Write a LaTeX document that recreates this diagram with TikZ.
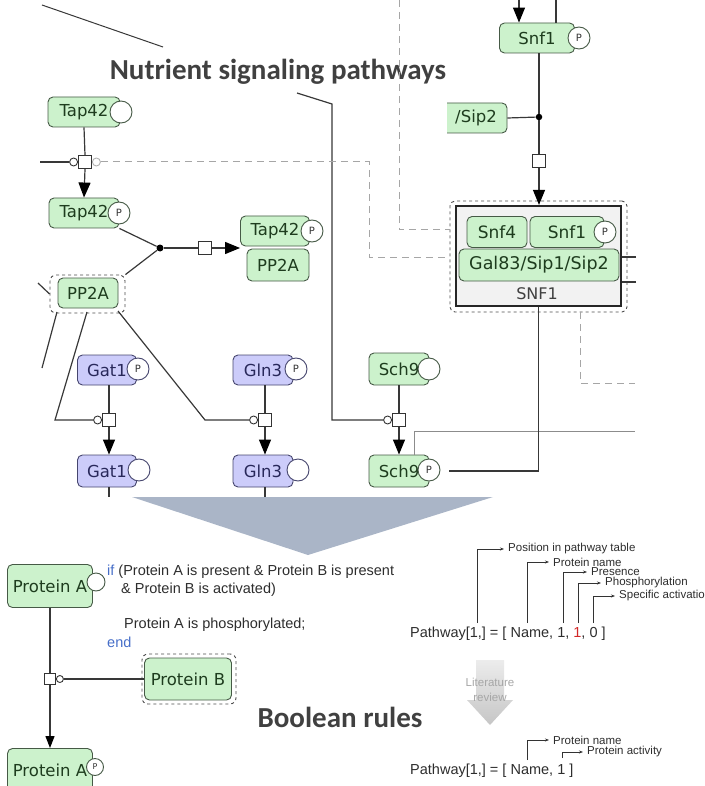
\documentclass[tikz,border=0pt]{standalone}
\usepackage{fontspec}
\usetikzlibrary{arrows.meta,shapes.misc,calc}
\newfontfamily\boxfont{DejaVu Sans}
\newfontfamily\titlefont{Carlito}
\newfontfamily\arialfont{Liberation Sans}
\definecolor{gfill}{RGB}{204,242,204}
\definecolor{bord}{RGB}{70,90,70}
\definecolor{gtext}{RGB}{30,60,30}
\definecolor{lfill}{RGB}{204,204,250}
\definecolor{lbord}{RGB}{70,70,110}
\definecolor{ltext}{RGB}{40,40,90}
\definecolor{cfill}{RGB}{242,242,242}
\definecolor{titlegray}{RGB}{64,64,64}
\definecolor{kwblue}{RGB}{70,110,200}
\definecolor{redone}{RGB}{210,40,40}
\definecolor{trifill}{RGB}{170,181,199}
\definecolor{txtgray}{RGB}{45,45,45}
\begin{document}
\begin{tikzpicture}[x=1pt,y=-1pt,
  mac/.style={draw=bord, fill=gfill, text=gtext, rounded corners=5pt, line width=0.9pt,
    inner sep=0pt, minimum height=30pt, font=\boxfont\fontsize{16.5}{18}\selectfont},
  lav/.style={mac, draw=lbord, fill=lfill, text=ltext},
  sv/.style={circle, draw=bord, fill=white, line width=0.9pt, inner sep=0pt,
    minimum size=22pt, text=black!80, font=\boxfont\fontsize{10}{11}\selectfont},
  proc/.style={draw=black!80, fill=white, line width=0.9pt, minimum size=13pt, inner sep=0pt},
  modc/.style={circle, draw=black!80, fill=white, line width=0.9pt, minimum size=8pt, inner sep=0pt},
  bdot/.style={circle, fill=black, minimum size=7pt, inner sep=0pt},
  conn/.style={draw=black!78, line width=1.2pt},
  dsh/.style={draw=black!35, line width=1pt, dash pattern=on 7pt off 5pt},
  arr/.style={conn, -{Triangle[length=15pt,width=12pt,color=black]}},
  arrsm/.style={conn, -{Triangle[length=12pt,width=9pt,color=black]}},
  outl/.style={draw=black!70, dashed, rounded corners=6pt, line width=0.9pt, inner sep=0pt},
  ttl/.style={font=\titlefont\bfseries\fontsize{29}{32}\selectfont, text=titlegray, inner sep=0pt},
  txt/.style={font=\arialfont\fontsize{14.5}{16}\selectfont, text=txtgray, inner sep=0pt},
  lbl/.style={font=\arialfont\fontsize{11.5}{13}\selectfont, text=txtgray, inner sep=0pt},
  ann/.style={draw=black!80, line width=0.8pt, -{Stealth[length=4pt,width=3pt]}}
]
\useasboundingbox (0,0) rectangle (704,786);

% decorative lines and title
\coordinate (tl1) at (42,5); \coordinate (tl2) at (163,47);
\draw[conn, line width=1pt] (tl1) -- (tl2);
\node[ttl] (title) at (278,72) {Nutrient signaling pathways};

% dashed background links
\coordinate (ds1) at (399,0); \coordinate (ds2) at (369,162);
\coordinate (ds3) at (580,312); \coordinate (ds4) at (635,383);

% ---------- Tap42 / PP2A ----------
\node[mac, minimum width=72pt] (tapA) at (84,112) {Tap42\hspace{4pt}};
\node[sv] (tapAs) at (121,112) {};
\node[proc] (p1) at (85,162) {};
\node[modc, anchor=east] (c1) at (p1.west) {};
\node[modc, draw=black!30, anchor=west] (c1b) at (p1.east) {};
\coordinate (l1) at (40,162);
\draw[conn] (l1) -- (c1.west);
\draw[conn] (tapA.south) -- (p1.north);
\node[mac, minimum width=70pt] (tapB) at (84,213) {Tap42\hspace{4pt}};
\node[sv] (tapBs) at (119,213) {P};
\draw[arr] (p1.south) -- (tapB.north);

\node[mac, minimum width=69pt] (tapC) at (275,231) {Tap42\hspace{4pt}};
\node[sv] (tapCs) at (312,231) {P};
\node[mac, minimum width=62pt, minimum height=32pt] (ppC) at (278,265) {PP2A};

\node[mac, minimum width=60pt] (ppL) at (88,293) {PP2A};
\node[outl, minimum width=75pt, minimum height=38pt] (ppLo) at (87.5,294) {};

\node[bdot] (d1) at (160,248) {};
\node[proc] (p2) at (205,248) {};
\draw[conn] (tapB.south east) -- (d1);
\draw[conn] (d1) -- (ppLo.north east);
\draw[conn] (d1) -- (p2.west);
\draw[arr] (p2.east) -- (tapC.south west |- p2);

\coordinate (pps) at (38,283);
\draw[conn] (pps) -- (ppLo.west);
\coordinate (ppb1) at (57,312); \coordinate (ppb1e) at (42,368);
\draw[conn] (ppb1) -- (ppb1e);

% ---------- Gat1 ----------
\node[lav, minimum width=59pt] (gat1p) at (107,370) {Gat1\hspace{3pt}};
\node[sv, draw=lbord] (gat1ps) at (138,369) {P};
\node[proc] (p3) at (109,420) {};
\node[modc, anchor=east] (c3) at (p3.west) {};
\node[lav, minimum width=59pt, minimum height=32pt] (gat1) at (107,471) {Gat1\hspace{3pt}};
\node[sv, draw=lbord] (gat1s) at (139,470) {};
\draw[conn] (gat1p.south -| p3) -- (p3.north);
\draw[arr] (p3.south) -- (p3.south |- gat1.north);
\coordinate (g1e) at (109,497);
\draw[conn] (p3 |- gat1.south) -- (g1e);
\coordinate (ppb2) at (87,312); \coordinate (ppb2k) at (55,420);
\draw[conn] (ppb2) -- (ppb2k) -- (c3.west);

% ---------- Gln3 ----------
\node[lav, minimum width=60pt] (gln3p) at (263,370) {Gln3\hspace{3pt}};
\node[sv, draw=lbord] (gln3ps) at (296,369) {P};
\node[proc] (p4) at (265,420) {};
\node[modc, anchor=east] (c4) at (p4.west) {};
\node[lav, minimum width=60pt, minimum height=32pt] (gln3) at (263,471) {Gln3\hspace{3pt}};
\node[sv, draw=lbord] (gln3s) at (298,470) {};
\draw[conn] (gln3p.south -| p4) -- (p4.north);
\draw[arr] (p4.south) -- (p4.south |- gln3.north);
\coordinate (g3e) at (265,497);
\draw[conn] (p4 |- gln3.south) -- (g3e);
\coordinate (ppb3) at (118,311); \coordinate (ppb3k) at (205,420);
\draw[conn] (ppb3) -- (ppb3k) -- (c4.west);

% ---------- Sch9 ----------
\node[mac, minimum width=60pt, minimum height=32pt] (sch9) at (399,369) {Sch9\hspace{4pt}};
\node[sv] (sch9s) at (429,369) {};
\node[proc] (p5) at (399,420) {};
\node[modc, anchor=east] (c5) at (p5.west) {};
\node[mac, minimum width=60pt, minimum height=32pt] (sch9p) at (399,471) {Sch9\hspace{4pt}};
\node[sv] (sch9ps) at (429,470) {P};
\draw[conn] (sch9.south) -- (p5.north);
\draw[arr] (p5.south) -- (sch9p.north);
\coordinate (m1) at (297,93); \coordinate (m2) at (332,104); \coordinate (m3) at (332,420);
\draw[conn] (m1) -- (m2) -- (m3) -- (c5.west);
\coordinate (gl1) at (414,455); \coordinate (gl2) at (414,431); \coordinate (gl3) at (635,431);
\draw[black!45, line width=0.8pt] (gl1) -- (gl2) -- (gl3);

% ---------- Snf1 / SNF1 complex ----------
\coordinate (st1) at (519,0); \coordinate (st2) at (556,0);
\node[mac, minimum width=75pt] (snf1t) at (537,38) {Snf1};
\node[sv] (snf1ts) at (579,38) {P};
\draw[arr] (st1) -- (st1 |- snf1t.north);
\draw[conn] (st2) -- (st2 |- snf1t.north);
\begin{scope}
  \clip (447,95) rectangle (520,140);
  \node[mac, minimum width=90pt] (sip) at (462,118) {};
\end{scope}
\node[mac, draw=none, fill=none] (siplab) at (476,118) {/Sip2};
\node[bdot, minimum size=6.5pt] (d2) at (539,117) {};
\node[proc] (p6) at (539,161) {};
\draw[conn] (snf1t.south -| d2) -- (d2);
\draw[conn] (sip.east) -- (d2);
\draw[conn] (d2) -- (p6.north);

\node[chamfered rectangle, chamfered rectangle xsep=7pt, chamfered rectangle ysep=7pt,
  draw=black!85, line width=2.2pt, fill=cfill,
  minimum width=165pt, minimum height=100pt, inner sep=0pt] (snf) at (538.5,256) {};
\node[outl, rounded corners=5pt, minimum width=177pt, minimum height=111pt] (snfo) at (538.5,256.5) {};
\node[mac, minimum width=60pt, minimum height=31pt, font=\boxfont\fontsize{17}{18}\selectfont] (snf4) at (497,232) {Snf4};
\node[mac, minimum width=74pt, minimum height=31pt, font=\boxfont\fontsize{17}{18}\selectfont] (snf1c) at (567,232) {Snf1\hspace{10pt}};
\node[sv] (snf1cs) at (605,232) {P};
\node[mac, minimum width=160pt, minimum height=32pt, font=\boxfont\fontsize{17.5}{18}\selectfont] (gal) at (539,265) {Gal83/Sip1/Sip2};
\node[font=\boxfont\fontsize{16}{18}\selectfont, text=black!75, inner sep=0pt] (snflab) at (537,294) {SNF1};
\draw[arr] (p6.south) -- (p6.south |- snf.north);

\draw[dsh] (ds1) |- (snfo.west |- 0,230);
\draw[dsh] (c1b.east) -- (ds2) |- (snfo.west |- 0,257);
\draw[dsh] (ds3) |- (ds4);
\coordinate (rs1) at (636,257); \coordinate (rs2) at (636,282);
\draw[conn] (rs1) -- (snf.east |- rs1);
\draw[conn] (rs2) -- (snf.east |- rs2);
\coordinate (e1) at (449,471);
\draw[conn] (snf.south) |- (e1);

% ---------- big arrow ----------
\fill[trifill] (132,497) -- (493,497) -- (308,555) -- cycle;

% ---------- Boolean rule example ----------
\node[mac, minimum width=85pt, minimum height=43pt, font=\boxfont\fontsize{16.5}{18}\selectfont] (pA) at (50,586) {Protein A};
\node[sv, minimum size=18pt] (pAs) at (96,582) {};
\node[proc, minimum size=11pt] (p7) at (50,679) {};
\node[modc, minimum size=7pt, anchor=west] (c7) at (p7.east) {};
\node[mac, minimum width=87pt, minimum height=42pt, font=\boxfont\fontsize{16.5}{18}\selectfont] (pB) at (188,679) {Protein B};
\node[outl, minimum width=94pt, minimum height=50pt] (pBo) at (189,679) {};
\node[mac, minimum width=85pt, minimum height=43pt, font=\boxfont\fontsize{16.5}{18}\selectfont] (pAP) at (50,770) {Protein A};
\node[sv, minimum size=17pt, font=\boxfont\fontsize{8}{9}\selectfont] (pAPs) at (95,767) {P};
\draw[conn] (pA.south) -- (p7.north);
\draw[arrsm] (p7.south) -- (pAP.north);
\draw[conn] (c7.east) -- (pB.west);

\node[txt, anchor=west] (r1) at (107,572) {\textcolor{kwblue}{if} (Protein A is present \& Protein B is present};
\node[txt, anchor=west] (r2) at (121,590) {\& Protein B is activated)};
\node[txt, anchor=west] (r3) at (124,625) {Protein A is phosphorylated;};
\node[txt, anchor=west] (r4) at (107,642) {\textcolor{kwblue}{end}};

\node[ttl] (boolt) at (340,717) {Boolean rules};

% ---------- Pathway encoding ----------
\node[txt, anchor=west] (pw1) at (410,634) {Pathway[1,] = [ Name, 1, \textcolor{redone}{1}, 0 ]};
\node[lbl, anchor=west] (a1) at (508,549) {Position in pathway table};
\node[lbl, anchor=west] (a2) at (553,562) {Protein name};
\node[lbl, anchor=west] (a3) at (591,572) {Presence};
\node[lbl, anchor=west] (a4) at (605,583) {Phosphorylation};
\node[lbl, anchor=west] (a5) at (619,596) {Specific activation};
\coordinate (b1) at (477,623); \coordinate (b2) at (527,623); \coordinate (b3) at (563,623);
\coordinate (b4) at (578,623); \coordinate (b5) at (593,623);
\draw[ann] (b1) |- ([xshift=-4pt]a1.west);
\draw[ann] (b2) |- ([xshift=-4pt]a2.west);
\draw[ann] (b3) |- ([xshift=-4pt]a3.west);
\draw[ann] (b4) |- ([xshift=-4pt]a4.west);
\draw[ann] (b5) |- ([xshift=-4pt]a5.west);

\shade[top color=gray!15, bottom color=gray!45] (476,660) -- (504,660) -- (504,700) -- (513,700)
  -- (490,725) -- (467,700) -- (476,700) -- cycle;
\node[lbl, text=gray!70] (lit1) at (490,682) {Literature};
\node[lbl, text=gray!70] (lit2) at (490,697) {review};

\node[txt, anchor=west] (pw2) at (410,771) {Pathway[1,] = [ Name, 1 ]};
\node[lbl, anchor=west] (a6) at (553,740) {Protein name};
\node[lbl, anchor=west] (a7) at (587,752) {Protein activity};
\coordinate (b6) at (527,760); \coordinate (b7) at (562,758);
\draw[ann] (b6) |- ([xshift=-4pt]a6.west);
\draw[ann] (b7) |- ([xshift=-4pt]a7.west);
\end{tikzpicture}
\end{document}
